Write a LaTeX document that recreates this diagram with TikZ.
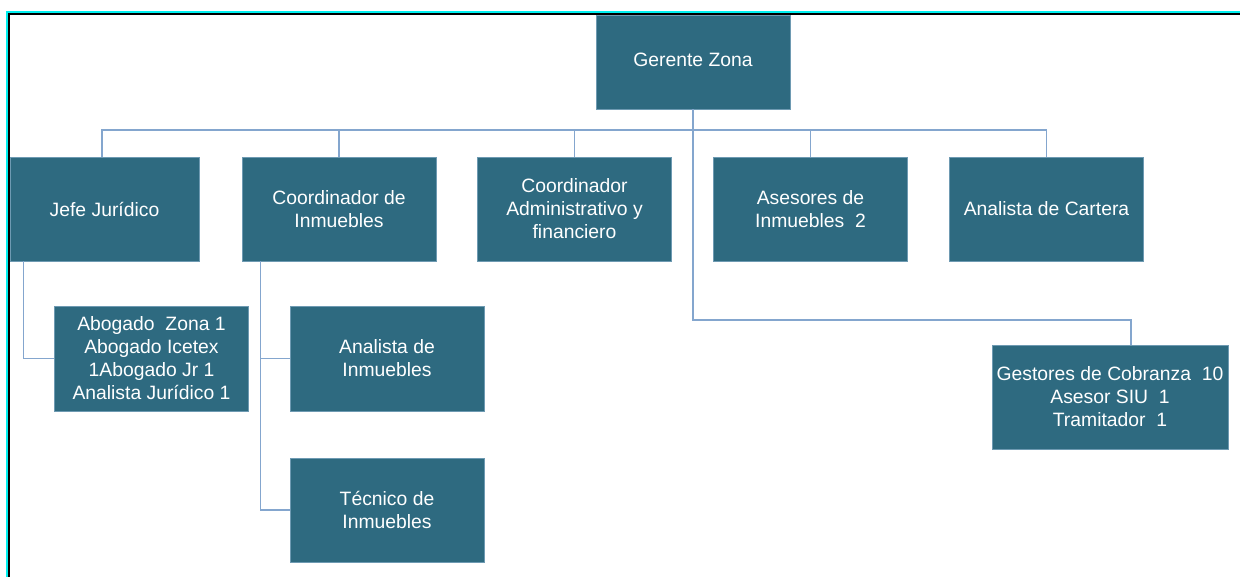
\documentclass[tikz,border=0pt]{standalone}
\usepackage{fontspec}
\setmainfont{Liberation Sans}
\definecolor{boxfill}{HTML}{2E6A80}
\definecolor{boxedge}{HTML}{6E9AB2}
\definecolor{conn}{HTML}{84A6CE}
\definecolor{framecyan}{HTML}{00F0F0}
\begin{document}
\begin{tikzpicture}[x=0.75pt,y=-0.75pt,
  box/.style={draw=boxedge,line width=0.5pt,fill=boxfill,text=white,inner sep=0pt,align=center,
    font=\fontsize{14.5}{17.25}\selectfont},
  lvl/.style={box,minimum width=145.5pt,minimum height=78pt},
  link/.style={draw=conn,line width=1.1pt}]
\useasboundingbox (0,0) rectangle (1240,577);
\fill[white] (0,0) rectangle (1240,577);
% nodes
\node[box,minimum width=145.5pt,minimum height=70.5pt] (g) at (693,62) {\raisebox{3pt}{Gerente Zona}};
\node[lvl,minimum width=141.75pt] (jj) at (104.5,209) {Jefe Jurídico};
\node[lvl] (ci) at (339,209) {Coordinador de\\Inmuebles};
\node[lvl] (ca) at (574.5,209) {Coordinador\\Administrativo y\\financiero};
\node[lvl] (ai) at (810.5,209) {Asesores de\\Inmuebles\ \ 2};
\node[lvl] (ac) at (1046.5,209) {Analista de Cartera};
\node[lvl,minimum height=78.75pt] (ab) at (151.5,358.5) {Abogado\ \ Zona 1\\Abogado Icetex\\1Abogado Jr 1\\Analista Jurídico 1};
\node[lvl,minimum height=78.75pt] (an) at (387,358.5) {Analista de\\Inmuebles};
\node[lvl] (te) at (387,510) {Técnico de\\Inmuebles};
\node[box,minimum width=177pt,minimum height=78pt] (gc) at (1110,397) {Gestores de Cobranza\ \ 10\\Asesor SIU\ \ 1\\Tramitador\ \ 1};
% helper coordinates
\coordinate (bus) at (0,130);
\coordinate (tr) at (0,320);
\coordinate (gcin) at ([xshift=15.75pt]gc.north);
\coordinate (jjin) at ([xshift=-1.9pt]jj.north);
% connectors
\draw[link] (g.south) -- (g.south |- bus);
\draw[link] (jjin) -- (jjin |- bus) -- (ac.north |- bus) -- (ac.north);
\draw[link] (ci.north) -- (ci.north |- bus);
\draw[link] (ca.north) -- (ca.north |- bus);
\draw[link] (ai.north) -- (ai.north |- bus);
\draw[link] (g.south) -- (g.south |- tr) -| (gcin);
\draw[link] (jj.south west) ++(14,0) |- (ab.west);
\draw[link] (ci.south west) ++(19,0) |- (an.west);
\draw[link] (ci.south west) ++(19,0) |- (te.west);
% frame
\draw[framecyan,line width=1.5pt] (7,577) -- (7,12) -- (1240,12);
\draw[black,line width=1.5pt] (9,577) -- (9,14) -- (1240,14);
\end{tikzpicture}
\end{document}
